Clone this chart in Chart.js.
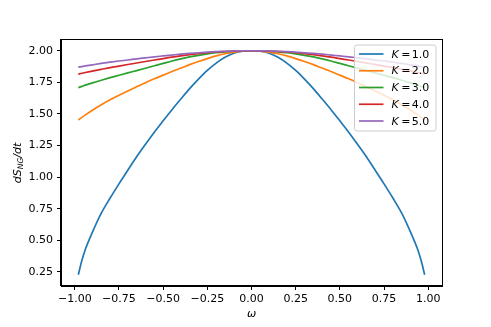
<!DOCTYPE html>
<html><head><meta charset="utf-8">
<script src="https://cdn.jsdelivr.net/npm/chart.js@4/dist/chart.umd.min.js"></script>
<style>html,body{margin:0;padding:0;background:#fff}#wrap{width:491px;height:327px;position:relative}</style>
</head><body><div id="wrap"><canvas id="c" width="491" height="327"></canvas></div>
<script>
const omega = [-0.98,-0.96,-0.94,-0.90,-0.85,-0.80,-0.75,-0.70,-0.65,-0.60,-0.55,-0.50,-0.45,-0.40,-0.35,-0.30,-0.25,-0.20,-0.15,-0.10,-0.05,0,
  0.05,0.10,0.15,0.20,0.25,0.30,0.35,0.40,0.45,0.50,0.55,0.60,0.65,0.70,0.75,0.80,0.85,0.90,0.94,0.96,0.98];
const kValues = ['1.0','2.0','3.0','4.0','5.0'];
const rateK1 = [0.228,0.34,0.43,0.565,0.715,0.835,0.947,1.055,1.161,1.26,1.356,1.446,1.534,1.618,1.70,1.775,1.844,1.902,1.948,1.98,1.996,2.0,
  1.996,1.98,1.948,1.902,1.844,1.775,1.70,1.618,1.534,1.446,1.356,1.26,1.161,1.055,0.947,0.835,0.715,0.565,0.43,0.34,0.228];
const rateK2 = [1.452,1.473,1.493,1.53,1.573,1.612,1.648,1.682,1.715,1.747,1.778,1.807,1.836,1.863,1.89,1.915,1.938,1.959,1.976,1.989,1.997,2.0,
  1.997,1.989,1.976,1.959,1.938,1.915,1.89,1.863,1.836,1.807,1.778,1.747,1.715,1.682,1.648,1.612,1.573,1.53,1.493,1.473,1.452];
const rateK3 = [1.708,1.718,1.728,1.746,1.767,1.787,1.806,1.825,1.843,1.862,1.881,1.90,1.919,1.936,1.951,1.964,1.975,1.984,1.991,1.996,1.999,2.0,
  1.999,1.996,1.991,1.984,1.975,1.964,1.951,1.936,1.919,1.90,1.881,1.862,1.843,1.825,1.806,1.787,1.767,1.746,1.728,1.718,1.708];
const rateK4 = [1.815,1.822,1.828,1.839,1.853,1.867,1.879,1.891,1.903,1.915,1.927,1.938,1.95,1.96,1.969,1.977,1.984,1.99,1.994,1.9975,1.999,2.0,
  1.999,1.9975,1.994,1.99,1.984,1.977,1.969,1.96,1.95,1.938,1.927,1.915,1.903,1.891,1.879,1.867,1.853,1.839,1.828,1.822,1.815];
const rateK5 = [1.87,1.875,1.88,1.889,1.90,1.91,1.919,1.927,1.936,1.944,1.952,1.959,1.966,1.973,1.979,1.984,1.989,1.993,1.996,1.998,1.9996,2.0,
  1.9996,1.998,1.996,1.993,1.989,1.984,1.979,1.973,1.966,1.959,1.952,1.944,1.936,1.927,1.919,1.91,1.90,1.889,1.88,1.875,1.87];
const xTicks = [-1.0,-0.75,-0.5,-0.25,0,0.25,0.5,0.75,1.0];
const yTicks = [0.25,0.5,0.75,1.0,1.25,1.5,1.75,2.0];

const colors = ['#1f77b4','#ff7f0e','#2ca02c','#d62728','#9467bd'];
const series = [rateK1, rateK2, rateK3, rateK4, rateK5];
const FONT = "'DejaVu Sans', sans-serif";

const datasets = series.map((s, i) => ({
  label: 'K = ' + kValues[i],
  data: omega.map((w, j) => ({x: w, y: s[j]})),
  borderColor: colors[i],
  backgroundColor: colors[i],
  borderWidth: 1.7,
  pointRadius: 0,
  fill: false,
  cubicInterpolationMode: 'monotone',
  order: series.length - i
}));

const fmt = v => {
  const s = Number(v).toFixed(2);
  return s.replace('-', '\u2212');
};

const decor = {
  id: 'decor',
  afterDraw(chart) {
    const ctx = chart.ctx;
    const a = chart.chartArea;
    ctx.save();
    // frame
    ctx.strokeStyle = '#000';
    ctx.lineWidth = 1;
    ctx.strokeRect(Math.round(a.left) - 0.5, Math.round(a.top) + 0.5, Math.round(a.right - a.left) + 1, Math.round(a.bottom - a.top) - 1);

    // legend
    const bx = 354.5, by = 45, bw = 81.5, bh = 86, r = 2.5;
    ctx.beginPath();
    ctx.moveTo(bx + r, by);
    ctx.lineTo(bx + bw - r, by);
    ctx.arcTo(bx + bw, by, bx + bw, by + r, r);
    ctx.lineTo(bx + bw, by + bh - r);
    ctx.arcTo(bx + bw, by + bh, bx + bw - r, by + bh, r);
    ctx.lineTo(bx + r, by + bh);
    ctx.arcTo(bx, by + bh, bx, by + bh - r, r);
    ctx.lineTo(bx, by + r);
    ctx.arcTo(bx, by, bx + r, by, r);
    ctx.closePath();
    ctx.fillStyle = 'rgba(255,255,255,0.8)';
    ctx.fill();
    ctx.strokeStyle = '#cccccc';
    ctx.lineWidth = 1;
    ctx.stroke();

    chart.data.datasets.forEach((ds, i) => {
      const cy = 54 + i * 16.75;
      ctx.strokeStyle = ds.borderColor;
      ctx.lineWidth = 1.7;
      ctx.beginPath();
      ctx.moveTo(359, cy);
      ctx.lineTo(383.5, cy);
      ctx.stroke();
      const base = cy + 3.7;
      ctx.fillStyle = '#000';
      ctx.textBaseline = 'alphabetic';
      ctx.textAlign = 'left';
      ctx.font = 'italic 11px ' + FONT;
      ctx.fillText('K', 391.5, base);
      ctx.font = '11px ' + FONT;
      ctx.fillText('=', 401.3, base);
      ctx.fillText(kValues[i], 411.8, base);
    });

    // x title
    ctx.fillStyle = '#000';
    ctx.font = 'italic 11px ' + FONT;
    ctx.textAlign = 'center';
    ctx.textBaseline = 'alphabetic';
    ctx.fillText('\u03c9', 251.5, 317);

    // y title
    ctx.save();
    ctx.translate(20.5, 163);
    ctx.rotate(-Math.PI / 2);
    ctx.textAlign = 'left';
    const big = 'italic 11px ' + FONT, small = 'italic 7.7px ' + FONT;
    ctx.font = big; const w1 = ctx.measureText('dS').width;
    ctx.font = small; const w2 = ctx.measureText('NG').width;
    ctx.font = big; const w3 = ctx.measureText('/dt').width;
    let x0 = -(w1 + w2 + w3) / 2;
    ctx.font = big; ctx.fillText('dS', x0, 0); x0 += w1;
    ctx.font = small; ctx.fillText('NG', x0, 2.5); x0 += w2;
    ctx.font = big; ctx.fillText('/dt', x0, 0);
    ctx.restore();

    ctx.restore();
  }
};

new Chart(document.getElementById('c'), {
  type: 'line',
  data: { datasets },
  plugins: [decor],
  options: {
    responsive: false,
    animation: false,
    devicePixelRatio: 1,
    layout: { padding: { left: 0, top: 39, right: 49, bottom: 0 } },
    plugins: { legend: { display: false }, tooltip: { enabled: false } },
    scales: {
      x: {
        type: 'linear',
        min: -1.078, max: 1.078,
        afterFit(scale) { scale.height = 41; },
        afterBuildTicks(scale) { scale.ticks = xTicks.map(v => ({ value: v })); },
        grid: { drawOnChartArea: false, drawTicks: true, tickLength: 4, color: '#000', lineWidth: 1 },
        border: { display: true, color: '#000', width: 1 },
        ticks: { color: '#000', font: { family: FONT, size: 11 }, padding: 3, maxRotation: 0, autoSkip: false, callback: v => fmt(v) }
      },
      y: {
        type: 'linear',
        min: 0.139, max: 2.093,
        afterFit(scale) { scale.width = 61; },
        afterBuildTicks(scale) { scale.ticks = yTicks.map(v => ({ value: v })); },
        grid: { drawOnChartArea: false, drawTicks: true, tickLength: 4, color: '#000', lineWidth: 1 },
        border: { display: true, color: '#000', width: 1 },
        ticks: { color: '#000', font: { family: FONT, size: 11 }, padding: 4, autoSkip: false, callback: v => fmt(v) }
      }
    }
  }
});
</script>
</body></html>
